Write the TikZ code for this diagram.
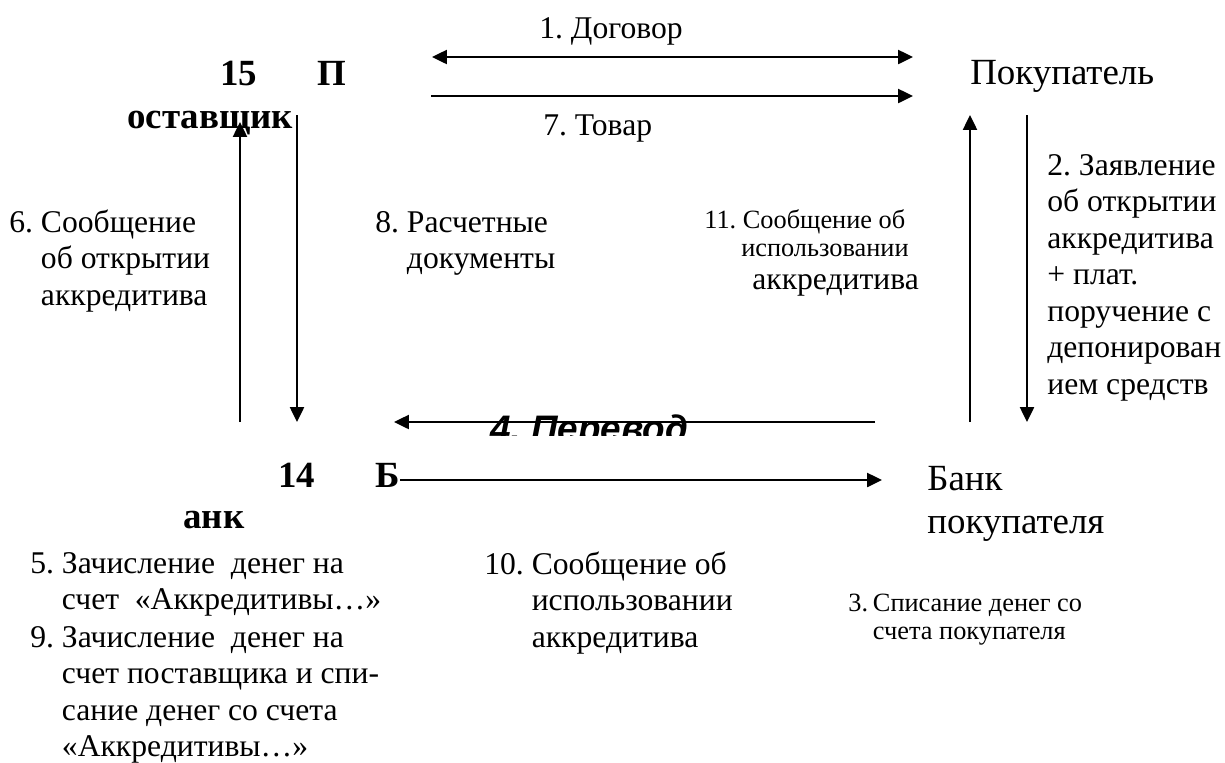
\documentclass[tikz,border=0pt]{standalone}
\usepackage{fontspec}
\setmainfont{Liberation Serif}
\setsansfont{Liberation Sans}
\usetikzlibrary{arrows.meta}
\frenchspacing

\begin{document}
\begin{tikzpicture}[x=0.02cm, y=-0.02cm, line join=miter, >={Triangle[length=8.5pt,width=8pt]},
  lbl/.style={inner sep=0pt, anchor=base west, font=\fontsize{18}{20.8}\selectfont},
  small/.style={inner sep=0pt, anchor=base west, font=\fontsize{15}{16.4}\selectfont},
  big/.style={inner sep=0pt, anchor=base west, font=\fontsize{21}{24.5}\selectfont},
  ttl/.style={inner sep=0pt, anchor=base west, font=\fontsize{21}{24}\selectfont\bfseries},
  flow/.style={line width=1.2pt}]
\useasboundingbox (0,0) rectangle (1225,762);
\coordinate (d1) at (432,57); \coordinate (d2) at (913,57); \coordinate (t1) at (431,96); \coordinate (t2) at (913,96);
\coordinate (l1) at (240,422); \coordinate (l2) at (240,122); \coordinate (l3) at (297,115); \coordinate (l4) at (297,422);
\coordinate (r1) at (970,422); \coordinate (r2) at (970,115); \coordinate (r3) at (1027,115); \coordinate (r4) at (1027,422);
\coordinate (p1) at (875,422); \coordinate (p2) at (394,422); \coordinate (b2) at (882,480);
\node[ttl] (n15) at (220,85) {15}; \node[ttl] (sup) at (317,85) {П}; \node[ttl] (sup2) at (127,128) {оставщик};
\node[ttl] (n14) at (278,487) {14}; \node[ttl] (bnk) at (375,487) {Б}; \node[ttl] (bnk2) at (183,528) {анк};
\node[big] (buy) at (970,84) {Покупатель};
\node[big] (bbank) at (927,490) {\begin{tabular}[t]{@{}l@{}}Банк\\покупателя\end{tabular}};
\node[lbl] (m1) at (539,38) {1. Договор};
\node[lbl] (m7) at (543,135) {7. Товар};
\node[lbl] (m2) at (1047,175) {\begin{tabular}[t]{@{}l@{}}2. Заявление\\об открытии\\аккредитива\\+ плат.\\поручение с\\депонирован\\ием средств\end{tabular}};
\node[lbl] (m6) at (9,232) {\begin{tabular}[t]{@{}p{18pt}@{}l@{}}6.&Сообщение\\&об открытии\\&аккредитива\end{tabular}};
\node[lbl] (m8) at (375,232) {\begin{tabular}[t]{@{}p{18pt}@{}l@{}}8.&Расчетные\\&документы\end{tabular}};
\node[small] (m11) at (704,228) {\begin{tabular}[t]{@{}l@{}}11. Сообщение об\\\hspace*{21pt}использовании\end{tabular}};
\node[lbl] (m11b) at (752,289) {аккредитива};
\node[lbl] (m5) at (30,573) {\begin{tabular}[t]{@{}p{18pt}@{}l@{}}5.&Зачисление\ \ денег на\\&счет\ \ «Аккредитивы…»\end{tabular}};
\node[lbl] (m9) at (30,647) {\begin{tabular}[t]{@{}p{18pt}@{}l@{}}9.&Зачисление\ \ денег на\\&счет поставщика и спи-\\&сание денег со счета\\&«Аккредитивы…»\end{tabular}};
\node[lbl] (m10) at (484,574) {\begin{tabular}[t]{@{}p{27pt}@{}l@{}}10.&Сообщение об\\&использовании\\&аккредитива\end{tabular}};
\node[small] (m3) at (848,611) {\begin{tabular}[t]{@{}p{14pt}@{}l@{}}3.&Списание денег со\\&счета покупателя\end{tabular}};
\begin{scope}
\clip (480,400) rectangle (710,435);
\node[inner sep=0pt, anchor=base west, font=\fontsize{21}{24}\selectfont\sffamily\bfseries\itshape] (m4) at (490,441) {4. Перевод};
\end{scope}
\draw[flow, <->] (d1) -- (d2);
\draw[flow, ->] (t1) -- (t2);
\draw[flow, ->] (l1) -- (l2);
\draw[flow, ->] (l3) -- (l4);
\draw[flow, ->] (r1) -- (r2);
\draw[flow, ->] (r3) -- (r4);
\draw[flow, ->] (p1) -- (p2);
\draw[flow, ->] (bnk.east |- b2) -- (b2);
\end{tikzpicture}
\end{document}
